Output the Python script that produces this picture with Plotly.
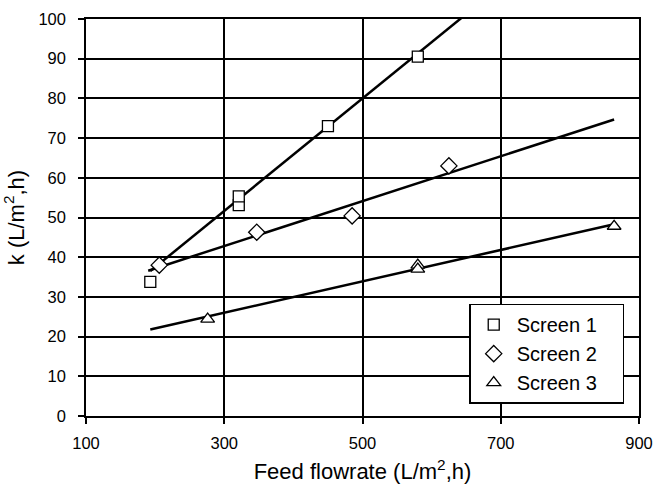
import plotly.graph_objects as go

# data
s1_x = [193, 321, 321, 450, 580]
s1_y = [33.8, 53.1, 55.3, 73.0, 90.5]
s2_x = [206, 347, 485, 625]
s2_y = [38.0, 46.3, 50.4, 63.0]
s3_x = [276, 580, 580, 864]
s3_y = [24.4, 38.0, 37.0, 47.8]

# trend lines (endpoints)
t1_x = [193, 865]
t1_y = [36.5, 131.7]
t2_x = [190, 864]
t2_y = [36.6, 74.7]
t3_x = [193, 864]
t3_y = [21.8, 48.3]

series_names = ["Screen 1", "Screen 2", "Screen 3"]
x_ticks = [100, 300, 500, 700, 900]
y_ticks = [0, 10, 20, 30, 40, 50, 60, 70, 80, 90, 100]

FONT = "Liberation Sans, Arial, sans-serif"

fig = go.Figure()
for tx, ty in [(t1_x, t1_y), (t2_x, t2_y), (t3_x, t3_y)]:
    fig.add_trace(go.Scatter(x=tx, y=ty, mode="lines", line=dict(color="black", width=2.5),
                             showlegend=False, hoverinfo="skip"))

specs = [(series_names[0], s1_x, s1_y, "square", 11),
         (series_names[1], s2_x, s2_y, "diamond", 12.5),
         (series_names[2], s3_x, s3_y, "triangle-up", 12)]
for i, (name, xs, ys, sym, sz) in enumerate(specs):
    fig.add_trace(go.Scatter(x=xs, y=ys, mode="markers", name=name + "\u00a0\u00a0\u00a0\u2009",
                             legendgroup=f"g{i}",
                             marker=dict(symbol=sym, size=sz, color="white",
                                         line=dict(color="black", width=1.3))))

fig.update_layout(
    width=655, height=484,
    margin=dict(l=86, r=16, t=19, b=68, autoexpand=False),
    paper_bgcolor="white", plot_bgcolor="white",
    font=dict(family=FONT, color="black", size=16),
    showlegend=True,
    legend=dict(x=0.693, y=0.283, xanchor="left", yanchor="top",
                bordercolor="black", borderwidth=1.5, bgcolor="white",
                font=dict(size=20, family=FONT), traceorder="grouped",
                tracegroupgap=0, itemwidth=36),
)
fig.update_xaxes(range=[100, 900], tickvals=x_ticks, showgrid=True, gridcolor="black", gridwidth=1.5,
                 showline=True, linecolor="black", linewidth=1.5, mirror=True,
                 ticks="outside", ticklen=6, tickcolor="black", tickwidth=1.5,
                 tickfont=dict(size=16.5), zeroline=False, automargin=False,
                 ticklabelstandoff=5,
                 title=dict(text="Feed flowrate (L/m<sup>2</sup>,h)", font=dict(size=22), standoff=15))
fig.update_yaxes(range=[0, 100], tickvals=y_ticks, showgrid=True, gridcolor="black", gridwidth=1.5,
                 showline=True, linecolor="black", linewidth=1.5, mirror=True,
                 ticks="outside", ticklen=6, tickcolor="black", tickwidth=1.5,
                 tickfont=dict(size=16.5), zeroline=False, automargin=False,
                 ticklabelstandoff=9,
                 title=dict(text="k (L/m<sup>2</sup>,h)", font=dict(size=22), standoff=8))

fig.write_html("out.html")
